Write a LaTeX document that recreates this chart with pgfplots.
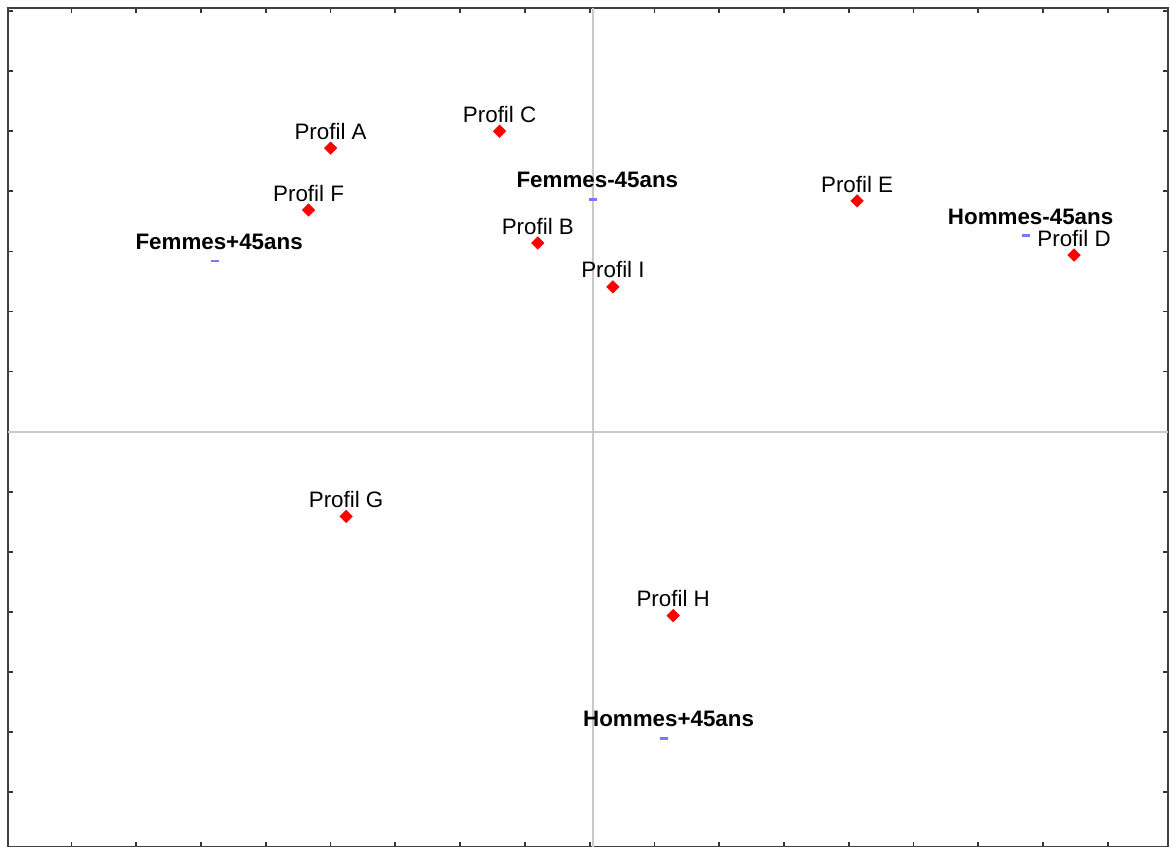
\documentclass[border=0pt]{standalone}
\usepackage{fontspec}
\setmainfont{Liberation Sans}
\usepackage{pgfplots}
\pgfplotsset{compat=1.18}
\definecolor{markblue}{RGB}{120,120,250}
\definecolor{crossgray}{RGB}{200,200,200}
\begin{document}
\begin{tikzpicture}
\begin{axis}[
    scale only axis,
    width=518.8pt, height=375.2pt,
    xmin=-9.03, xmax=8.88,
    ymin=-6.91, ymax=7.05,
    xtick={-8.05,-7.05,-6.05,-5.05,-4.05,-3.05,-2.05,-1.05,-0.05,0.95,1.95,2.95,3.95,4.95,5.95,6.95,7.95},
    ytick={-6,...,7},
    xticklabels={}, yticklabels={},
    major tick length=2.2pt,
    tick style={black!80, line width=0.8pt},
    axis line style={black!75, line width=0.9pt},
    extra x ticks={0}, extra y ticks={0},
    extra x tick labels={}, extra y tick labels={},
    extra tick style={grid=major, major tick length=0pt,
        major grid style={crossgray, line width=1pt}},
    clip=false,
]
% profils
\addplot[only marks, mark=square*, mark size=1.9pt, color=red,
    mark options={rotate=45},
    nodes near coords, point meta=explicit symbolic,
    every node near coord/.append style={anchor=base, yshift=4pt, text=black,
        font=\fontsize{10}{12}\selectfont, inner sep=0pt}]
    table[col sep=comma, meta=label] {
x,y,label
-4.05,4.72,Profil A
-1.44,5.00,Profil C
-4.39,3.69,Profil F
-0.85,3.14,Profil B
0.31,2.41,Profil I
4.08,3.84,Profil E
7.43,2.94,Profil D
-3.81,-1.41,Profil G
1.24,-3.06,Profil H
};
% groupes
\addplot[only marks, mark=-, mark size=1.8pt, color=markblue, line width=1.3pt,
    nodes near coords, point meta=explicit symbolic,
    every node near coord/.append style={anchor=base, yshift=5pt, xshift=2pt, text=black,
        font=\fontsize{10}{12}\selectfont\bfseries, inner sep=0pt}]
    table[col sep=comma, meta=label] {
x,y,label
0.00,3.87,Femmes-45ans
-5.84,2.84,Femmes+45ans
6.69,3.27,Hommes-45ans
1.10,-5.10,Hommes+45ans
};
\end{axis}
\pgfresetboundingbox
\path ([shift={(-3.6pt,0pt)}]current axis.south west)
    rectangle ([shift={(0.9pt,3.6pt)}]current axis.north east);
\end{tikzpicture}
\end{document}
